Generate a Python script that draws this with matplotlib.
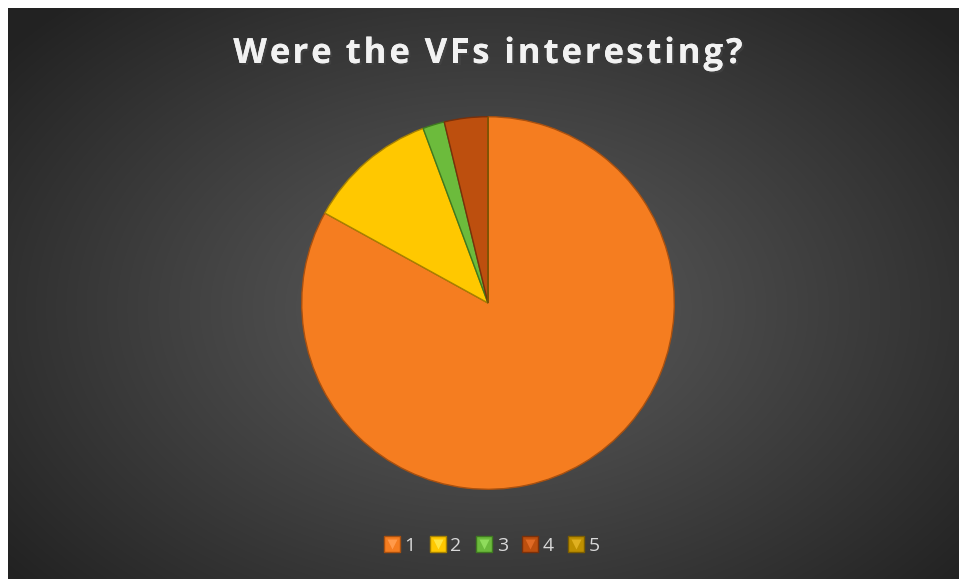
import matplotlib.pyplot as plt
import matplotlib.patheffects as pe
from matplotlib.legend_handler import HandlerTuple
from matplotlib.lines import Line2D
import numpy as np

title = 'Were the VFs interesting?'
labels = ['1', '2', '3', '4', '5']
counts = [44, 6, 1, 2, 0]
colors = ['#F57D20', '#FFC800', '#6CBB3C', '#BD4F0E', '#BF9000']
edges = ['#A9500F', '#A88200', '#3F7A20', '#7A300A', '#7D5E00']
tips = ['#FF9A4A', '#FFE440', '#8FDC5C', '#E06A25', '#E0B020']

W, H = 959, 579
fig = plt.figure(figsize=(W / 100, H / 100), dpi=100, facecolor='white')

# dark radial gradient background (chart area starts 8px in from the left/top)
bg = fig.add_axes([8 / W, 0, 951 / W, 571 / H])
yy, xx = np.mgrid[0:571, 0:951]
d = np.sqrt(((xx - 480) / 620.0) ** 2 + ((yy - 300) / 420.0) ** 2)
val = 92 - 58 * np.clip(d, 0, 1) ** 1.1
bg.imshow(np.dstack([val, val, val]) / 255.0, aspect='auto', interpolation='bilinear')
bg.axis('off')

# pie
cx, cy, r = 488, 303, 190
ax = fig.add_axes([(cx - r) / W, (H - cy - r) / H, 2 * r / W, 2 * r / H])
wedges, _ = ax.pie(counts, colors=colors, startangle=90, counterclock=False,
                   radius=1.0, wedgeprops=dict(linewidth=1.0))
for w, ec in zip(wedges, edges):
    w.set_edgecolor(ec)
ax.set_xlim(-1.02, 1.02)
ax.set_ylim(-1.02, 1.02)
ax.axis('off')

# title, drawn letter by letter to get the slightly wide spacing
tprops = dict(fontsize=25, fontweight='bold', family='Open Sans', color='#F2F2F2',
              va='center', ha='left',
              path_effects=[pe.withSimplePatchShadow(offset=(1.5, -1.5), alpha=0.5), pe.Normal()])
renderer = fig.canvas.get_renderer()


def text_w(s):
    t = fig.text(0, 0, s + '|', **tprops)
    w = t.get_window_extent(renderer).width
    t.remove()
    return w


bar_w = text_w('')
adv = [text_w(title[:i]) - bar_w for i in range(len(title) + 1)]
spacing = 2.9
total = adv[-1] + spacing * (len(title) - 1)
x0 = 488 - total / 2
for i, ch in enumerate(title):
    if ch != ' ':
        fig.text((x0 + adv[i] + spacing * i) / W, 1 - 54 / H, ch, **tprops)

# legend with little pyramid markers
handles = []
for c, ec, t in zip(colors, edges, tips):
    sq = Line2D([], [], marker='s', markersize=11, markerfacecolor=c, markeredgecolor=ec,
                linestyle='none')
    tri = Line2D([], [], marker='v', markersize=7, markerfacecolor=t, markeredgecolor='none',
                 linestyle='none')
    handles.append((sq, tri))
leg = fig.legend(handles, labels, loc='center', bbox_to_anchor=(492 / W, 1 - 546 / H),
                 ncol=5, frameon=False, handler_map={tuple: HandlerTuple(ndivide=1)},
                 handlelength=0.8, handletextpad=0.25, columnspacing=0.75,
                 prop={'family': 'Open Sans', 'size': 14})
for t in leg.get_texts():
    t.set_color('#D9D9D9')

plt.savefig('out.png', dpi=100, facecolor='white')
